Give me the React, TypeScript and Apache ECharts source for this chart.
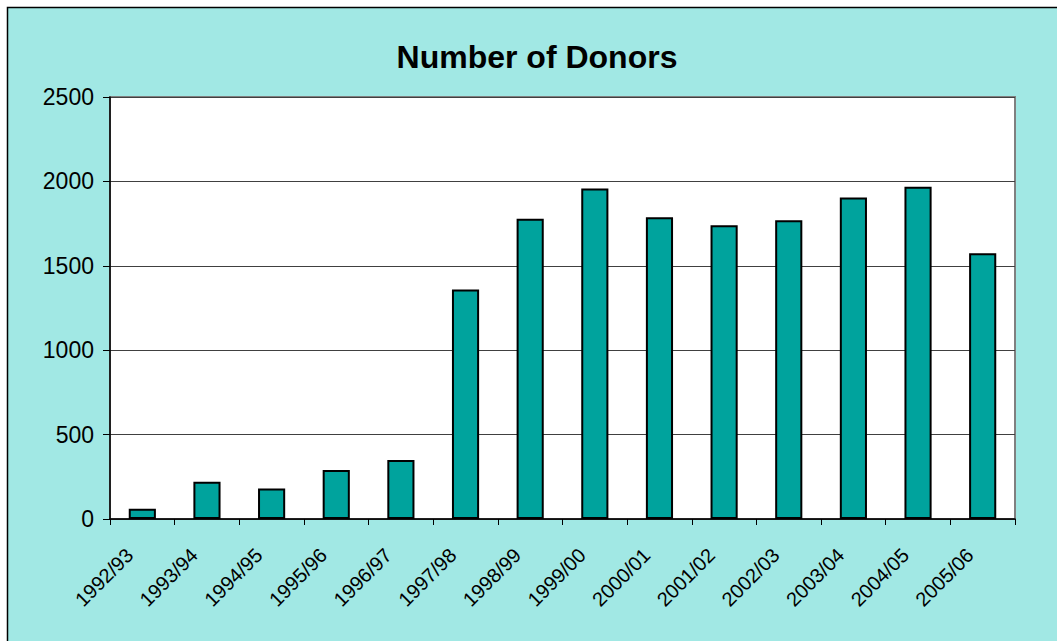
import React, { useEffect, useRef } from "react";
import * as echarts from "echarts";

const categories = [
  "1992/93", "1993/94", "1994/95", "1995/96", "1996/97", "1997/98", "1998/99",
  "1999/00", "2000/01", "2001/02", "2002/03", "2003/04", "2004/05", "2005/06",
];
const donors = [60, 220, 180, 290, 350, 1360, 1778, 1958, 1788, 1740, 1770, 1904, 1968, 1574];
const yTicks = { min: 0, max: 2500, interval: 500 };
const title = "Number of Donors";

export default function App() {
  const ref = useRef<HTMLDivElement>(null);
  useEffect(() => {
    if (!ref.current) return;
    const chart = echarts.init(ref.current, undefined, { renderer: "svg" });
    chart.setOption({
      animation: false,
      backgroundColor: "#ffffff",
      graphic: [
        {
          type: "rect",
          z: -100,
          silent: true,
          shape: { x: 7.5, y: 7.5, width: 1060, height: 640 },
          style: { fill: "#A1E8E4", stroke: "#000000", lineWidth: 1.5 },
        },
      ],
      title: {
        text: title,
        left: 532,
        textAlign: "center",
        top: 36,
        textStyle: { fontFamily: "Arial, Liberation Sans", fontWeight: "bold", fontSize: 32, color: "#000" },
      },
      grid: {
        left: 110,
        top: 97,
        width: 905,
        height: 422,
        show: true,
        backgroundColor: "#ffffff",
        borderColor: "#808080",
        borderWidth: 2,
      },
      xAxis: {
        type: "category",
        data: categories,
        axisLine: { lineStyle: { color: "#000", width: 1.5 } },
        axisTick: { show: true, length: 6, lineStyle: { color: "#000" } },
        axisLabel: {
          rotate: 45,
          interval: 0,
          margin: 20,
          padding: [0, 18, 0, 0],
          fontSize: 20,
          fontFamily: "Arial, Liberation Sans",
          color: "#000",
        },
      },
      yAxis: {
        type: "value",
        min: yTicks.min,
        max: yTicks.max,
        interval: yTicks.interval,
        axisLine: { show: true, lineStyle: { color: "#000", width: 1.5 } },
        axisTick: { show: true, length: 7, lineStyle: { color: "#000" } },
        axisLabel: {
          margin: 16,
          fontSize: 23,
          fontFamily: "Arial, Liberation Sans",
          color: "#000",
          formatter: (v: number) => String(v),
        },
        splitLine: { lineStyle: { color: "#404040", width: 1 } },
      },
      series: [
        {
          type: "bar",
          data: donors,
          barWidth: "42%",
          itemStyle: { color: "#00A39D", borderColor: "#000", borderWidth: 2 },
        },
      ],
    });
    return () => chart.dispose();
  }, []);
  return (
    <div
      ref={ref}
      style={{ position: "fixed", left: 0, top: 0, width: 1057, height: 641 }}
    />
  );
}
